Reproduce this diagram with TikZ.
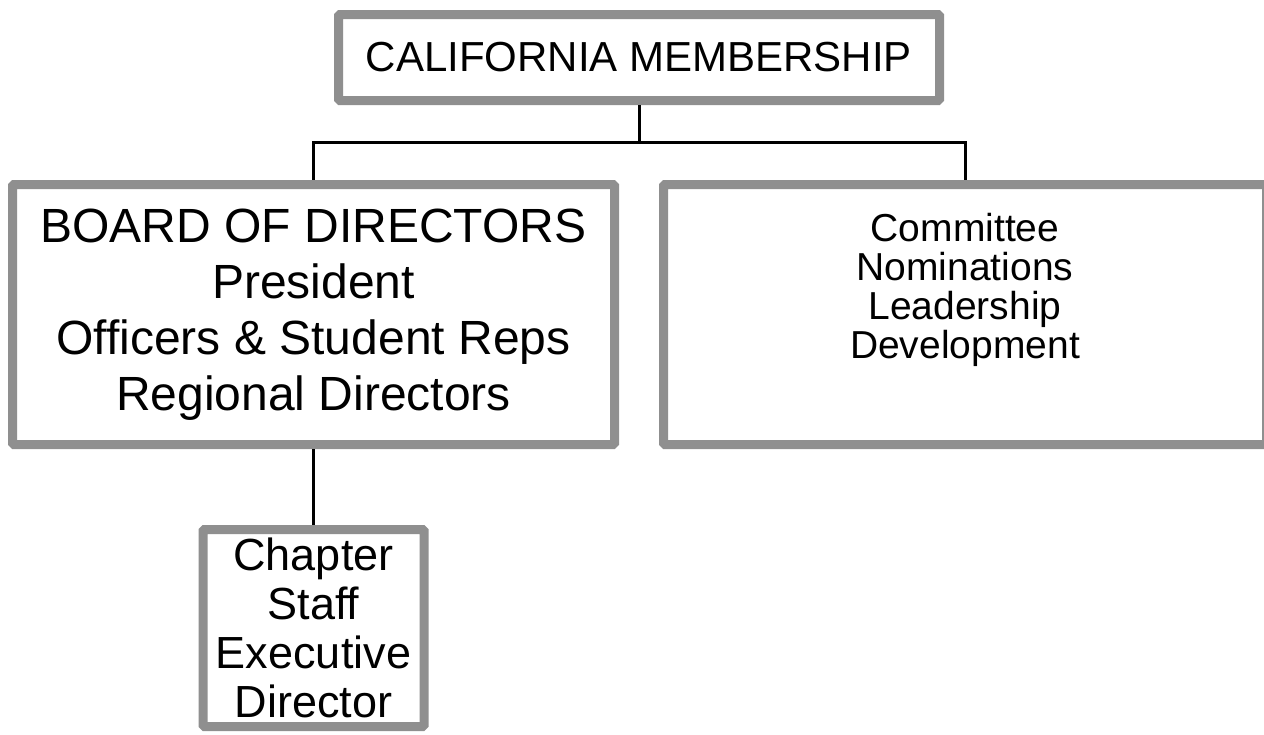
\documentclass[tikz,border=0pt]{standalone}
\usepackage{fontspec}
\setmainfont{Liberation Sans}
\definecolor{boxgray}{RGB}{143,143,143}
\tikzstyle{orgbox} = [rectangle, rounded corners=1.5pt,
draw=boxgray,
line width=9pt,
fill=white,
align=center,
text=black]
\tikzstyle{link} = [line width=3pt, black]

\begin{document}
\begin{tikzpicture}[x=1pt, y=1pt, node distance=257pt]
        \useasboundingbox (0,0) rectangle (1264,-734);
        \node (member) [orgbox, minimum width=601pt, minimum height=86pt, font=\fontsize{42}{48}\selectfont] at (639,-57.5) {CALIFORNIA MEMBERSHIP};
        \node (board) [orgbox, below of=member, xshift=-325.5pt, minimum width=602pt, minimum height=260pt, font=\fontsize{48}{56}\selectfont] {BOARD OF DIRECTORS\\President\\Officers \& Student Reps\\Regional Directors};
        \node (committee) [orgbox, below of=member, xshift=326pt, minimum width=603pt, minimum height=260pt, font=\fontsize{39}{39}\selectfont] {Committee\\Nominations\\Leadership\\Development\rule[-58pt]{0pt}{0pt}};
        \node (chapter) [orgbox, below of=board, yshift=-56.5pt, minimum width=221pt, minimum height=197pt, font=\fontsize{45}{49}\selectfont] {Chapter\\Staff\\Executive\\Director};
        \draw [link] (member.south) -- ++(0,-37) -| (board.north);
        \draw [link] (member.south) -- ++(0,-37) -| (committee.north);
        \draw [link] (board.south) -- (chapter.north);
    \end{tikzpicture}
\end{document}
